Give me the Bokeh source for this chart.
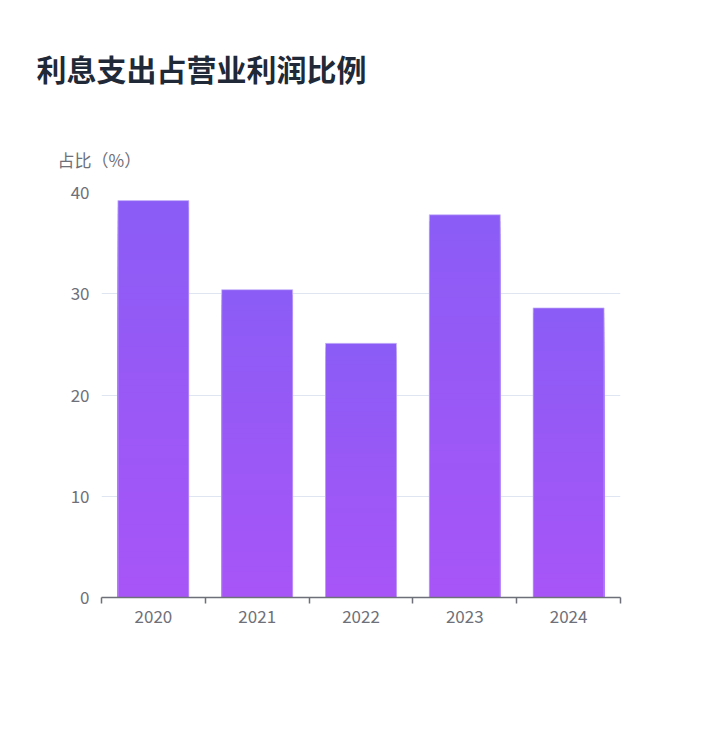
import numpy as np
from bokeh.plotting import figure
from bokeh.models import FixedTicker, Title, Range1d, ColumnDataSource
from bokeh.embed import file_html
from bokeh.resources import INLINE

title_text = "利息支出占营业利润比例"
y_axis_name = "占比（%）"
years = ["2020", "2021", "2022", "2023", "2024"]
ratios = [39.2, 30.4, 25.1, 37.8, 28.6]
y_ticks = [0, 10, 20, 30, 40]

FONT = "Noto Sans CJK SC"
TOP_COLOR = (0x8b, 0x5c, 0xf6)
BOTTOM_COLOR = (0xa8, 0x55, 0xf7)
AXIS_GRAY = "#6e7079"

p = figure(width=712, height=708, output_backend="svg", toolbar_location=None,
           x_range=Range1d(0, len(years)), y_range=Range1d(0, 40),
           min_border_left=101, min_border_right=92, min_border_top=192, min_border_bottom=111)
p.outline_line_color = None
p.background_fill_color = "white"
p.border_fill_color = "white"

centers = [i + 0.5 for i in range(len(years))]
N = 60
xs, tops, colors = [], [], []
for c, v in zip(centers, ratios):
    for k in range(N):
        frac = (N - k) / N
        t = (N - k - 0.5) / N
        rgb = tuple(int(round(BOTTOM_COLOR[j] + (TOP_COLOR[j] - BOTTOM_COLOR[j]) * t)) for j in range(3))
        xs.append(c)
        tops.append(v * frac)
        colors.append("#%02x%02x%02x" % rgb)
src = ColumnDataSource(dict(x=xs, top=tops, color=colors))
p.vbar(x="x", top="top", bottom=0, width=0.684, fill_color="color", line_color=None, source=src)
p.vbar(x=centers, top=ratios, bottom=0, width=0.684, fill_color=None,
       line_color="#c9b8fb", line_alpha=0.7, line_width=1)

# x axis: labels at centers, ticks at boundaries
xa = p.xaxis[0]
xa.ticker = FixedTicker(ticks=centers, minor_ticks=list(range(len(years) + 1)))
xa.major_label_overrides = {c: y for c, y in zip(centers, years)}
xa.major_tick_line_color = None
xa.minor_tick_line_color = AXIS_GRAY
xa.minor_tick_out = 6
xa.minor_tick_in = 0
xa.minor_tick_line_width = 1.5
xa.axis_line_color = AXIS_GRAY
xa.axis_line_width = 1.5
xa.major_label_text_font = FONT
xa.major_label_text_font_size = "17px"
xa.major_label_text_color = AXIS_GRAY
xa.major_label_standoff = 6

ya = p.yaxis[0]
ya.ticker = FixedTicker(ticks=y_ticks, minor_ticks=[])
ya.axis_line_color = None
ya.major_tick_line_color = None
ya.minor_tick_line_color = None
ya.major_label_text_font = FONT
ya.major_label_text_font_size = "17px"
ya.major_label_text_color = AXIS_GRAY
ya.major_label_standoff = 6

p.xgrid.grid_line_color = None
p.ygrid.grid_line_color = "#e0e6f1"
p.ygrid.ticker = FixedTicker(ticks=y_ticks[1:])

# nearest to the plot first: the value-axis name, then the chart title
p.add_layout(Title(text=y_axis_name, align="left", offset=-44,
                   text_font=FONT, text_font_size="17px", text_font_style="normal",
                   text_color=AXIS_GRAY, standoff=42), "above")
p.add_layout(Title(text=title_text, align="left", offset=-65,
                   text_font=FONT, text_font_size="30px", text_font_style="bold",
                   text_color="#1f2937", standoff=67), "above")

open("out.html", "w").write(file_html(p, INLINE))
